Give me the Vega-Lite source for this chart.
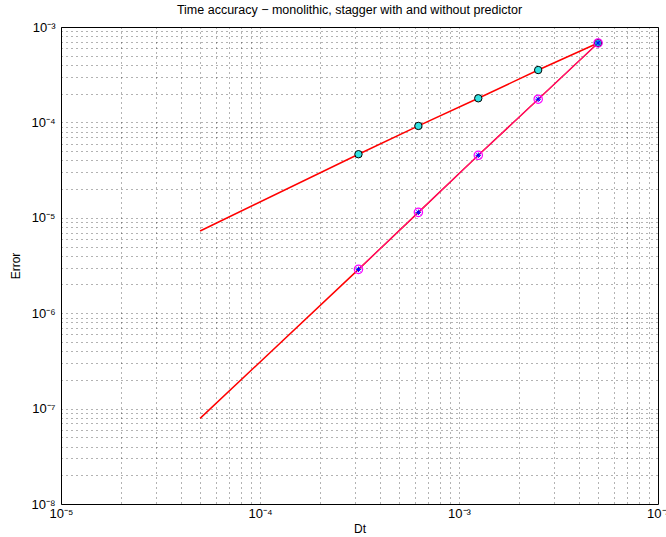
{
  "$schema": "https://vega.github.io/schema/vega-lite/v6.json",
  "width": 597,
  "height": 477,
  "autosize": {"type": "none"},
  "padding": {"left": 61, "top": 27, "right": 8, "bottom": 33},
  "background": "white",
  "config": {
    "font": "Liberation Sans",
    "view": {"stroke": "black", "strokeWidth": 1},
    "axis": {"labelFont": "Liberation Sans", "titleFont": "Liberation Sans"}
  },
  "title": {"text": "Time accuracy − monolithic, stagger with and without predictor", "fontSize": 12.5, "fontWeight": "normal", "font": "Liberation Sans", "offset": 5, "dx": -10, "color": "black"},
  "datasets": {
    "upper": [
      {"dt": 0.0003125, "err": 0.0000464},
      {"dt": 0.000625, "err": 0.0000918},
      {"dt": 0.00125, "err": 0.000179},
      {"dt": 0.0025, "err": 0.000354},
      {"dt": 0.005, "err": 0.00068}
    ],
    "lower": [
      {"dt": 0.0003125, "err": 0.00000288},
      {"dt": 0.000625, "err": 0.0000114},
      {"dt": 0.00125, "err": 0.0000452},
      {"dt": 0.0025, "err": 0.000175},
      {"dt": 0.005, "err": 0.00068}
    ],
    "red": [
      {"s": "a", "dt": 0.00005, "err": 0.00000727},
      {"s": "a", "dt": 0.0003125, "err": 0.0000464},
      {"s": "a", "dt": 0.000625, "err": 0.0000918},
      {"s": "a", "dt": 0.00125, "err": 0.000179},
      {"s": "a", "dt": 0.0025, "err": 0.000354},
      {"s": "a", "dt": 0.005, "err": 0.00068},
      {"s": "b", "dt": 0.00005, "err": 0.000000079},
      {"s": "b", "dt": 0.0003125, "err": 0.00000288},
      {"s": "b", "dt": 0.000625, "err": 0.0000114},
      {"s": "b", "dt": 0.00125, "err": 0.0000452},
      {"s": "b", "dt": 0.0025, "err": 0.000175},
      {"s": "b", "dt": 0.005, "err": 0.00068}
    ]
  },
  "layer": [
    {
      "data": {"name": "red"},
      "mark": {"type": "line", "color": "#ff0000", "strokeWidth": 1.5},
      "encoding": {
        "x": {
          "field": "dt", "type": "quantitative",
          "scale": {"type": "log", "domain": [0.00001, 0.01]},
          "axis": {
            "orient": "bottom",
            "title": "Dt", "titleFontSize": 12, "titleFontWeight": "normal", "titleColor": "black", "titlePadding": 3,
            "values": [0.00001,0.00002,0.00003,0.00004,0.00005,0.00006,0.00007,0.00008,0.00009,0.0001,0.0002,0.0003,0.0004,0.0005,0.0006,0.0007,0.0008,0.0009,0.001,0.002,0.003,0.004,0.005,0.006,0.007,0.008,0.009,0.01],
            "labelExpr": "abs(log(datum.value)/LN10 - round(log(datum.value)/LN10)) < 0.000001 ? '10' + '⁻' + ['⁰','¹','²','³','⁴','⁵','⁶','⁷','⁸','⁹'][abs(round(log(datum.value)/LN10))] : ''",
            "labelFontSize": 13, "labelColor": "black", "labelPadding": 3, "labelFlush": false, "labelOverlap": false,
            "grid": true, "gridDash": [1, 4], "gridColor": "#000000", "gridOpacity": 0.6, "gridWidth": 1,
            "domain": false, "ticks": false
          }
        },
        "y": {
          "field": "err", "type": "quantitative",
          "scale": {"type": "log", "domain": [0.00000001, 0.001]},
          "axis": {
            "orient": "left",
            "title": "Error", "titleFontSize": 12, "titleFontWeight": "normal", "titleColor": "black", "titlePadding": 8,
            "values": [0.00000001,0.00000002,0.00000003,0.00000004,0.00000005,0.00000006,0.00000007,0.00000008,0.00000009,0.0000001,0.0000002,0.0000003,0.0000004,0.0000005,0.0000006,0.0000007,0.0000008,0.0000009,0.000001,0.000002,0.000003,0.000004,0.000005,0.000006,0.000007,0.000008,0.000009,0.00001,0.00002,0.00003,0.00004,0.00005,0.00006,0.00007,0.00008,0.00009,0.0001,0.0002,0.0003,0.0004,0.0005,0.0006,0.0007,0.0008,0.0009,0.001],
            "labelExpr": "abs(log(datum.value)/LN10 - round(log(datum.value)/LN10)) < 0.000001 ? '10' + '⁻' + ['⁰','¹','²','³','⁴','⁵','⁶','⁷','⁸','⁹'][abs(round(log(datum.value)/LN10))] : ''",
            "labelFontSize": 13, "labelColor": "black", "labelPadding": 6, "labelFlush": false, "labelOverlap": false,
            "grid": true, "gridDash": [1, 4], "gridColor": "#000000", "gridOpacity": 0.6, "gridWidth": 1,
            "domain": false, "ticks": false
          }
        },
        "detail": {"field": "s"}
      }
    },
    {
      "data": {"name": "lower"},
      "mark": {"type": "line", "color": "#ff00ff", "strokeWidth": 1, "opacity": 0.6},
      "encoding": {
        "x": {"field": "dt", "type": "quantitative"},
        "y": {"field": "err", "type": "quantitative"}
      }
    },
    {
      "data": {"name": "upper"},
      "mark": {"type": "point", "shape": "circle", "filled": true, "fill": "#33e2e2", "stroke": "#000000", "strokeWidth": 1, "size": 55, "opacity": 1},
      "encoding": {
        "x": {"field": "dt", "type": "quantitative"},
        "y": {"field": "err", "type": "quantitative"}
      }
    },
    {
      "data": {"name": "lower"},
      "mark": {"type": "point", "shape": "circle", "filled": false, "stroke": "#ff00ff", "strokeWidth": 1.2, "size": 70, "opacity": 1},
      "encoding": {
        "x": {"field": "dt", "type": "quantitative"},
        "y": {"field": "err", "type": "quantitative"}
      }
    },
    {
      "data": {"name": "lower"},
      "mark": {"type": "point", "shape": "M-1,0L1,0M0,-1L0,1M-0.7,-0.7L0.7,0.7M-0.7,0.7L0.7,-0.7", "filled": false, "stroke": "#0000ff", "strokeWidth": 1, "size": 30, "opacity": 1},
      "encoding": {
        "x": {"field": "dt", "type": "quantitative"},
        "y": {"field": "err", "type": "quantitative"}
      }
    }
  ]
}
